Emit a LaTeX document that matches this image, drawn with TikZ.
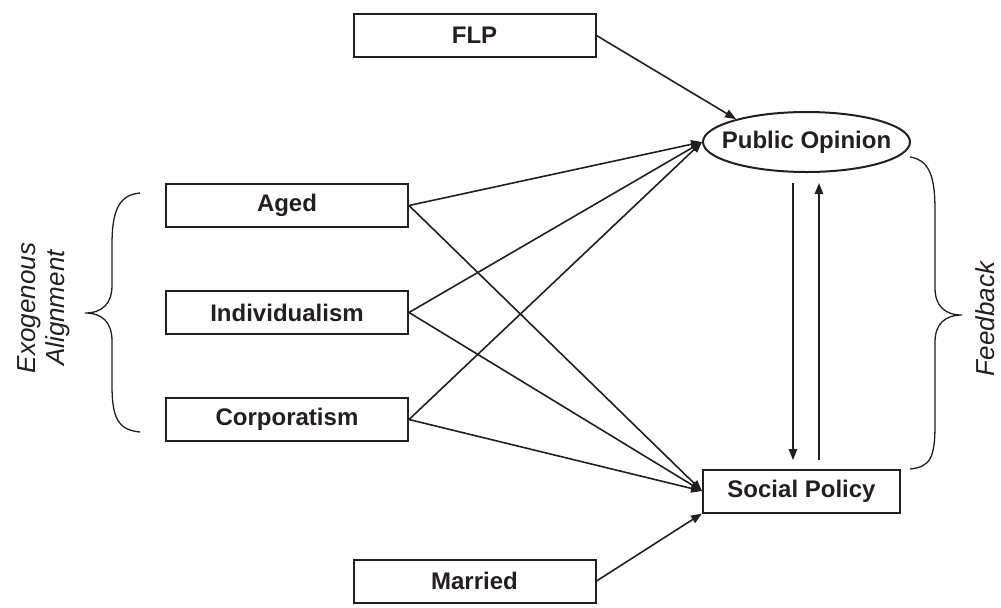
\documentclass[tikz,border=0pt]{standalone}
\usepackage{fontspec}
\setmainfont{Liberation Sans}
\usetikzlibrary{shapes.geometric,arrows.meta}
\definecolor{ink}{HTML}{231F20}
\tikzset{
  varbox/.style={draw=ink, line width=1pt, inner sep=0pt, minimum width=121pt, minimum height=21.5pt, font=\bfseries\fontsize{12}{14}\selectfont, text=ink},
  ovalnode/.style={draw=ink, ellipse, line width=1pt, inner ysep=0pt, inner xsep=-6pt, minimum width=103.5pt, minimum height=30pt, font=\bfseries\fontsize{12}{14}\selectfont, text=ink},
  link/.style={draw=ink, line width=0.8pt, -{Triangle[length=5.5pt,width=4.2pt]}},
  bracepath/.style={draw=ink, line width=0.65pt},
  sidelabel/.style={font=\itshape\fontsize{13}{14.5}\selectfont, text=ink, rotate=90, align=center}
}
\begin{document}
\begin{tikzpicture}[x=0.5pt,y=-0.5pt]
\useasboundingbox (0,0) rectangle (1001,607);
% nodes
\node[varbox] (flp) at (474.5,35.5) {FLP};
\node[varbox] (aged) at (287,205.5) {Aged};
\node[varbox] (ind) at (287,312.5) {Individualism};
\node[varbox] (corp) at (287,419.5) {Corporatism};
\node[varbox] (mar) at (474.5,581) {Married};
\node[ovalnode] (po) at (806.5,142) {Public Opinion};
\node[varbox, minimum width=98.5pt] (sp) at (801.5,491) {Social Policy};
% connectors
\draw[link] (flp.east) -- (po.162);
\draw[link] (aged.east) -- (po.west);
\draw[link] (ind.east) -- (po.west);
\draw[link] (corp.east) -- (po.west);
\draw[link] (aged.east) -- (sp.west);
\draw[link] (ind.east) -- (sp.west);
\draw[link] (corp.east) -- (sp.west);
\draw[link] (mar.east) -- (sp.south west);
\coordinate (d1) at (793,183);
\coordinate (d2) at (793,460);
\coordinate (u1) at (819,460);
\coordinate (u2) at (819,183);
\draw[link] (d1) -- (d2);
\draw[link] (u1) -- (u2);
% braces
\draw[bracepath] (140,193) .. controls (118,195) and (112,212) .. (112,245) -- (112,285)
  .. controls (112,304) and (102,313) .. (85,313)
  .. controls (102,313) and (112,322) .. (112,341) -- (112,385)
  .. controls (112,418) and (118,430) .. (140,432);
\draw[bracepath] (910,157) .. controls (930,160) and (935,178) .. (935,210) -- (935,288)
  .. controls (935,306) and (945,315) .. (962,315)
  .. controls (945,315) and (935,324) .. (935,342) -- (935,425)
  .. controls (935,458) and (930,467) .. (910,469);
% labels
\node[sidelabel] (exo) at (44,308) {Exogenous\\Alignment};
\node[sidelabel] (fb) at (985,319) {Feedback};
\end{tikzpicture}
\end{document}
